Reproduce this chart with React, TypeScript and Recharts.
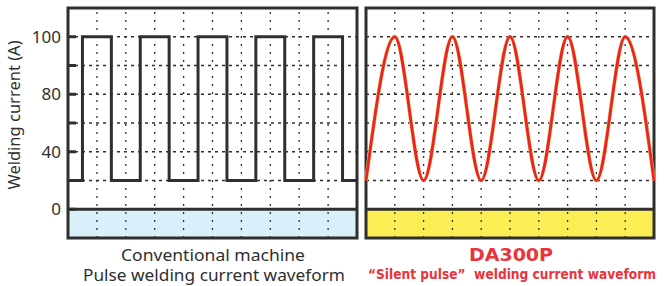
import React from 'react';
import { LineChart, Line, XAxis, YAxis, CartesianGrid, ReferenceArea, ReferenceLine } from 'recharts';

// grid divisions across each panel (x in grid units 0..10)
const xGridTicks = [1, 2, 3, 4, 5, 6, 7, 8, 9];
// vertical levels: each dashed line is one level, 0 is the ground line
const yLevels = [0, 1, 2, 3, 4, 5, 6];
const yLabels = ['0', '', '40', '', '80', '', '100'];

// conventional machine: square pulse, switching points
const conventionalX = [0, 0.5, 1.5, 2.5, 3.5, 4.5, 5.5, 6.5, 7.5, 8.5, 9.5, 10];
const conventionalLevel = [1, 6, 1, 6, 1, 6, 1, 6, 1, 6, 1, 1];

// DA300P: smooth pulse, peaks and troughs
const silentX = [0, 1, 2, 3, 4, 5, 6, 7, 8, 9, 10];
const silentLevel = [1, 6, 1, 6, 1, 6, 1, 6, 1, 6, 1];

const leftCaption = ['Conventional machine', 'Pulse welding current waveform'];
const rightCaption = ['DA300P', '“Silent pulse”  welding current waveform'];

const INK = '#2f2f2f';
const RED = '#e8232b';
const RED_TEXT = '#e8343a';

const conventionalData = conventionalX.map((x, i) => ({ x, level: conventionalLevel[i] }));
const silentData = silentX.map((x, i) => ({ x, level: silentLevel[i] }));

type PanelProps = {
  data: { x: number; level: number }[];
  lineType: 'stepAfter' | 'monotone';
  lineColor: string;
  haloColor?: string;
  groundColor: string;
  labelled: boolean;
  width: number;
  axisWidth: number;
  margin: { top: number; right: number; bottom: number; left: number };
};

function WavePanel({ data, lineType, lineColor, haloColor, groundColor, labelled, width, axisWidth, margin }: PanelProps) {
  return (
    <LineChart width={width} height={242} data={data} margin={margin}>
      <ReferenceArea x1={0} x2={10} y1={-1} y2={0} fill={groundColor} fillOpacity={1} stroke="none" ifOverflow="visible" />
      <CartesianGrid vertical={false} stroke={INK} strokeWidth={1.3} strokeDasharray="3 4" />
      {xGridTicks.map((x) => (
        <ReferenceLine key={x} x={x} stroke={INK} strokeWidth={1.3} strokeDasharray="2 6" />
      ))}
      <XAxis type="number" dataKey="x" domain={[0, 10]} ticks={xGridTicks} hide />
      <YAxis
        type="number"
        domain={[-1, 7]}
        ticks={yLevels}
        width={axisWidth}
        axisLine={false}
        tickSize={-8}
        tickMargin={15}
        tickLine={{ stroke: INK, strokeWidth: 3 }}
        tick={{ fill: INK, fontSize: 17 }}
        tickFormatter={(v: number) => (labelled ? yLabels[yLevels.indexOf(v)] ?? '' : '')}
        label={
          labelled
            ? {
                value: 'Welding current (A)',
                angle: -90,
                position: 'insideLeft',
                offset: 14,
                dy: -8,
                style: { textAnchor: 'middle', fill: INK, fontSize: 16.5 },
              }
            : undefined
        }
      />
      <ReferenceLine y={0} stroke={INK} strokeWidth={3} />
      {haloColor && (
        <Line
          type={lineType}
          dataKey="level"
          stroke={haloColor}
          strokeWidth={3.8}
          dot={false}
          activeDot={false}
          isAnimationActive={false}
        />
      )}
      <Line
        type={lineType}
        dataKey="level"
        stroke={lineColor}
        strokeWidth={haloColor ? 2.8 : 3}
        dot={false}
        activeDot={false}
        isAnimationActive={false}
      />
      <ReferenceArea x1={0} x2={10} y1={-1} y2={7} fill="none" stroke={INK} strokeWidth={3} ifOverflow="visible" />
    </LineChart>
  );
}

export default function App() {
  return (
    <div
      style={{
        position: 'absolute',
        left: 0,
        top: 0,
        width: 664,
        height: 286,
        background: '#fff',
        fontFamily: '"Noto Sans", sans-serif',
      }}
    >
      <div style={{ position: 'absolute', left: 0, top: 0 }}>
        <WavePanel
          data={conventionalData}
          lineType="stepAfter"
          lineColor={INK}
          groundColor="#d9f0fb"
          labelled
          width={362}
          axisWidth={68}
          margin={{ top: 8, right: 5, bottom: 4, left: 0 }}
        />
      </div>
      <div style={{ position: 'absolute', left: 362, top: 0 }}>
        <WavePanel
          data={silentData}
          lineType="monotone"
          lineColor={RED}
          haloColor="#f5c04a"
          groundColor="#fbee55"
          labelled={false}
          width={300}
          axisWidth={0}
          margin={{ top: 8, right: 8, bottom: 4, left: 4 }}
        />
      </div>
      <svg width={664} height={46} style={{ position: 'absolute', left: 0, top: 240 }}>
        <text x={213} y={21} textAnchor="middle" fill={INK} fontSize={16} textLength={184} lengthAdjust="spacingAndGlyphs">
          {leftCaption[0]}
        </text>
        <text x={214} y={41} textAnchor="middle" fill={INK} fontSize={16} textLength={262} lengthAdjust="spacingAndGlyphs">
          {leftCaption[1]}
        </text>
        <text
          x={511}
          y={21}
          textAnchor="middle"
          fill={RED_TEXT}
          fontSize={17}
          fontWeight="bold"
          fontFamily='"DejaVu Sans", sans-serif'
          textLength={84}
          lengthAdjust="spacingAndGlyphs"
        >
          {rightCaption[0]}
        </text>
        <text
          x={512}
          y={39}
          textAnchor="middle"
          fill={RED_TEXT}
          fontSize={14.5}
          fontWeight="bold"
          fontFamily='"DejaVu Sans Condensed", "DejaVu Sans", sans-serif'
          textLength={288}
          lengthAdjust="spacingAndGlyphs"
          style={{ whiteSpace: 'pre' }}
        >
          {rightCaption[1]}
        </text>
      </svg>
    </div>
  );
}
